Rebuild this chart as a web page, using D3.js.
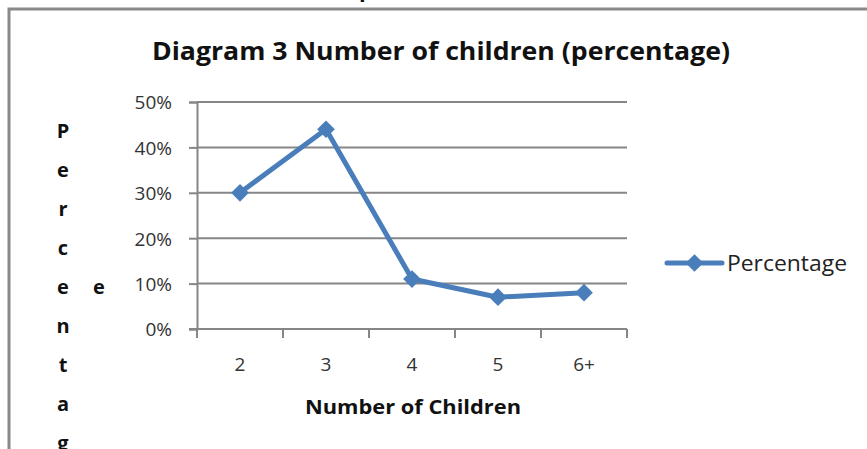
<!DOCTYPE html>
<html>
<head>
<meta charset="utf-8">
<script src="https://cdn.jsdelivr.net/npm/d3@7"></script>
<style>
  html, body { margin: 0; padding: 0; background: #fff; }
  svg { display: block; }
</style>
</head>
<body>
<svg id="chart" width="867" height="449"></svg>
<script>
// Number of children per household, share of respondents
const categories = ["2", "3", "4", "5", "6+"];
const percentages = [0.30, 0.44, 0.11, 0.07, 0.08];
const yTicks = [0, 0.1, 0.2, 0.3, 0.4, 0.5];
const seriesName = "Percentage";
const yTitleLetters = ["P", "e", "r", "c", "e", "n", "t", "a", "g"];

const svg = d3.select("#chart");
const font = "'Open Sans', Lato, sans-serif";
const blue = "#4a7ebb";
const grey = "#868686";

// outer frame of the chart object
svg.append("path")
  .attr("d", "M9,449 V9 H867")
  .attr("fill", "none")
  .attr("stroke", "#8a8a8a")
  .attr("stroke-width", 3);

// descenders of the caption line sitting above the frame
svg.append("text").attr("x", 359).attr("y", -3)
  .attr("font-family", font).attr("font-weight", "bold").attr("font-size", 22)
  .attr("fill", "#111").text("p");
svg.append("text").attr("x", 486).attr("y", -3)
  .attr("font-family", font).attr("font-weight", "bold").attr("font-size", 22)
  .attr("fill", "#111").text(",");

const plot = { left: 197, right: 627, top: 102, bottom: 329 };

const x = d3.scaleBand().domain(categories).range([plot.left, plot.right]);
const y = d3.scaleLinear().domain([0, 0.5]).range([plot.bottom, plot.top]);

// title
svg.append("text")
  .attr("x", 441).attr("y", 60)
  .attr("text-anchor", "middle")
  .attr("font-family", font).attr("font-weight", "bold").attr("font-size", 25)
  .attr("fill", "#111")
  .attr("textLength", 578).attr("lengthAdjust", "spacingAndGlyphs")
  .text("Diagram 3 Number of children (percentage)");

// horizontal gridlines
svg.append("g")
  .selectAll("line")
  .data(yTicks.filter(d => d > 0))
  .join("line")
  .attr("x1", plot.left).attr("x2", plot.right)
  .attr("y1", d => y(d)).attr("y2", d => y(d))
  .attr("stroke", grey).attr("stroke-width", 2);

// y axis
const yAxis = svg.append("g")
  .attr("transform", `translate(${plot.left},0)`)
  .call(d3.axisLeft(y).tickValues(yTicks).tickFormat(d3.format(".0%")).tickSize(8).tickPadding(17));
yAxis.select(".domain").attr("stroke", grey).attr("stroke-width", 2);
yAxis.selectAll(".tick line").attr("stroke", grey).attr("stroke-width", 2);
yAxis.selectAll(".tick text")
  .attr("font-family", font).attr("font-size", 19).attr("fill", "#333")
  .attr("dy", "0.36em");

// x axis with ticks between categories
const xAxis = svg.append("g")
  .attr("transform", `translate(0,${plot.bottom})`);
xAxis.append("line")
  .attr("x1", plot.left - 8).attr("x2", plot.right)
  .attr("stroke", grey).attr("stroke-width", 2);
const bounds = categories.map(c => x(c)).concat([plot.right]);
xAxis.selectAll("line.tick")
  .data(bounds)
  .join("line")
  .attr("class", "tick")
  .attr("x1", d => d).attr("x2", d => d)
  .attr("y1", 0).attr("y2", 9)
  .attr("stroke", grey).attr("stroke-width", 2);
xAxis.selectAll("text")
  .data(categories)
  .join("text")
  .attr("x", d => x(d) + x.bandwidth() / 2)
  .attr("y", 42)
  .attr("text-anchor", "middle")
  .attr("font-family", font).attr("font-size", 19).attr("fill", "#333")
  .text(d => d);

// x axis title
svg.append("text")
  .attr("x", 413).attr("y", 414)
  .attr("text-anchor", "middle")
  .attr("font-family", font).attr("font-weight", "bold").attr("font-size", 20)
  .attr("fill", "#111")
  .attr("textLength", 216).attr("lengthAdjust", "spacingAndGlyphs")
  .text("Number of Children");

// stacked y axis title
svg.append("g")
  .selectAll("text")
  .data(yTitleLetters)
  .join("text")
  .attr("x", 63)
  .attr("y", (d, i) => 138 + i * 39)
  .attr("text-anchor", "middle")
  .attr("font-family", font).attr("font-weight", "bold").attr("font-size", 20)
  .attr("fill", "#111")
  .text(d => d);
svg.append("text")
  .attr("x", 99).attr("y", 294)
  .attr("text-anchor", "middle")
  .attr("font-family", font).attr("font-weight", "bold").attr("font-size", 20)
  .attr("fill", "#111")
  .text("e");

// series line
const cx = d => x(d) + x.bandwidth() / 2;
const line = d3.line()
  .x((d, i) => cx(categories[i]))
  .y(d => y(d));
svg.append("path")
  .datum(percentages)
  .attr("d", line)
  .attr("fill", "none")
  .attr("stroke", blue)
  .attr("stroke-width", 5)
  .attr("stroke-linejoin", "round");

// diamond markers
const diamond = d3.symbol().type(d3.symbolDiamond2).size(200);
svg.append("g")
  .selectAll("path")
  .data(percentages)
  .join("path")
  .attr("transform", (d, i) => `translate(${cx(categories[i])},${y(d)})`)
  .attr("d", diamond)
  .attr("fill", blue);

// legend
const legend = svg.append("g").attr("transform", "translate(667,263)");
legend.append("line")
  .attr("x1", 0).attr("x2", 55)
  .attr("stroke", blue).attr("stroke-width", 5).attr("stroke-linecap", "round");
legend.append("path")
  .attr("transform", "translate(27.5,0)")
  .attr("d", diamond)
  .attr("fill", blue);
legend.append("text")
  .attr("x", 60).attr("y", 8)
  .attr("font-family", font).attr("font-size", 21).attr("fill", "#222")
  .attr("textLength", 120).attr("lengthAdjust", "spacingAndGlyphs")
  .text(seriesName);
</script>
</body>
</html>
